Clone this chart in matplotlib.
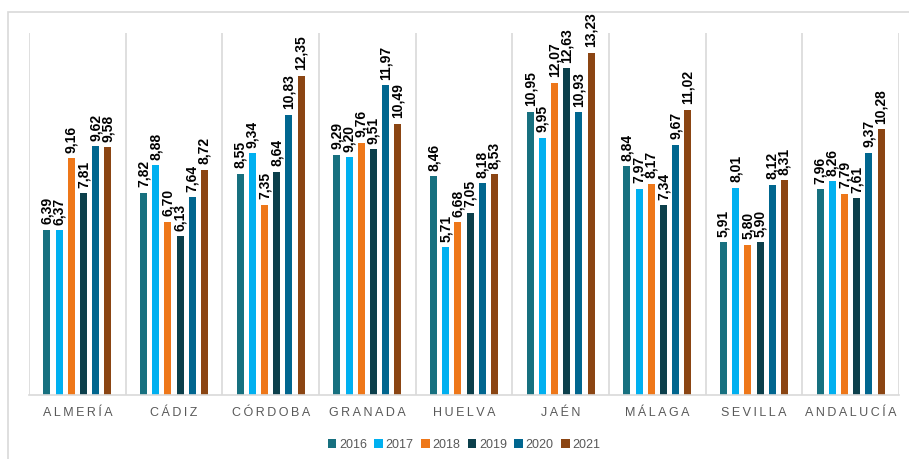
import numpy as np
import matplotlib.pyplot as plt
from matplotlib.patches import Rectangle

plt.rcParams['font.family'] = ['Liberation Sans', 'DejaVu Sans']

provincias = ['ALMERÍA', 'CÁDIZ', 'CÓRDOBA', 'GRANADA', 'HUELVA', 'JAÉN',
              'MÁLAGA', 'SEVILLA', 'ANDALUCÍA']
anios = ['2016', '2017', '2018', '2019', '2020', '2021']

v2016 = [6.39, 7.82, 8.55, 9.29, 8.46, 10.95, 8.84, 5.91, 7.96]
v2017 = [6.37, 8.88, 9.34, 9.20, 5.71, 9.95, 7.97, 8.01, 8.26]
v2018 = [9.16, 6.70, 7.35, 9.76, 6.68, 12.07, 8.17, 5.80, 7.79]
v2019 = [7.81, 6.13, 8.64, 9.51, 7.05, 12.63, 7.34, 5.90, 7.61]
v2020 = [9.62, 7.64, 10.83, 11.97, 8.18, 10.93, 9.67, 8.12, 9.37]
v2021 = [9.58, 8.72, 12.35, 10.49, 8.53, 13.23, 11.02, 8.31, 10.28]
series = [v2016, v2017, v2018, v2019, v2020, v2021]

colores = ['#17707F', '#00B0F0', '#EE7719', '#0B3F4B', '#00668F', '#8B4513']

fig = plt.figure(figsize=(9.09, 4.59), dpi=100)
# marco exterior
fig.patches.append(Rectangle((8 / 909, -0.1), 1.2, (459 - 12) / 459 + 0.1,
                             transform=fig.transFigure, fill=False,
                             edgecolor='#D9D9D9', linewidth=1.2))
ax = fig.add_axes([29 / 909, 64 / 459, 870 / 909, 362 / 459])

x = np.arange(len(provincias))
paso = 0.126
ancho = 0.072
for i, (vals, col) in enumerate(zip(series, colores)):
    pos = x + (i - 2.5) * paso
    barras = ax.bar(pos, vals, ancho, color=col, label=anios[i])
    for b, v in zip(barras, vals):
        ax.annotate(f'{v:.2f}'.replace('.', ','),
                    (b.get_x() + b.get_width() / 2, v),
                    xytext=(0, 4), textcoords='offset points',
                    rotation=90, ha='center', va='bottom',
                    fontsize=10, fontweight='bold', color='black')

ax.set_xlim(-0.5, len(provincias) - 0.5)
ax.set_ylim(0, 14)
for s in np.arange(-0.5, len(provincias), 1):
    ax.axvline(s, color='#D9D9D9', linewidth=1.2, zorder=0)
for sp in ['top', 'left', 'right']:
    ax.spines[sp].set_visible(False)
ax.spines['bottom'].set_color('#D9D9D9')
ax.spines['bottom'].set_linewidth(1.2)
ax.set_yticks([])
ax.set_xticks(x)
ax.set_xticklabels(['\u2009'.join(p) for p in provincias], fontsize=9,
                   color='#595959')
ax.tick_params(axis='x', length=0, pad=9)

ax.legend(loc='upper center', bbox_to_anchor=(0.5, -0.09), ncol=6,
          frameon=False, fontsize=9, labelcolor='#595959',
          handlelength=0.7, handleheight=0.7, handletextpad=0.2,
          columnspacing=0.6)

plt.savefig('out.png', dpi=100)
